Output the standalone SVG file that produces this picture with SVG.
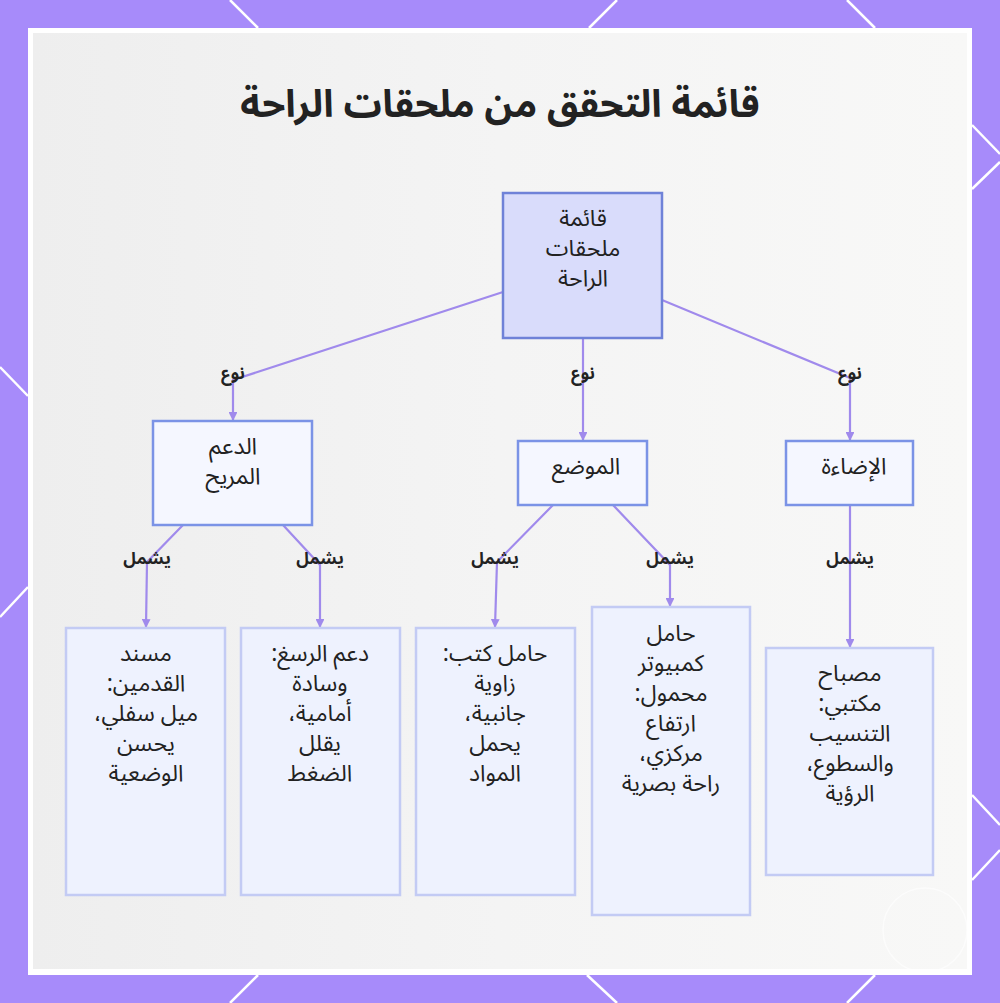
<svg xmlns="http://www.w3.org/2000/svg" width="1000" height="1003" viewBox="0 0 1000 1003">
<defs>
<style>
.t{font-family:"Noto Sans Arabic","Noto Sans","DejaVu Sans",sans-serif;fill:#222;text-anchor:middle;direction:rtl}
.title{font-size:38px;font-weight:bold}
.n{font-size:23px}
.lbl{font-size:17px;font-weight:bold}
.edge{fill:none;stroke:#a08aec;stroke-width:2.2}
.root{fill:#d9dcfb;stroke:#6f82d8;stroke-width:2.5}
.mid{fill:#f5f7ff;stroke:#7b93e6;stroke-width:2.5}
.leaf{fill:#eef2fe;stroke:#c3cbf4;stroke-width:2.5}
.dl{stroke:#ffffff;stroke-width:2.5}
</style>
<linearGradient id="bg" x1="0" y1="0" x2="1" y2="0">
<stop offset="0" stop-color="#eeeeee"/>
<stop offset="0.5" stop-color="#f4f4f4"/>
<stop offset="1" stop-color="#f8f8f7"/>
</linearGradient>
<marker id="ah" viewBox="0 0 10 10" refX="9" refY="5" markerWidth="4" markerHeight="4" orient="auto">
<path d="M0,0 L10,5 L0,10 z" fill="#a08aec"/>
</marker>
</defs>
<rect x="0" y="0" width="1000" height="1003" fill="#a78bfa"/>
<g id="border-lines">
<line class="dl" x1="230" y1="0" x2="258" y2="28"/>
<line class="dl" x1="617" y1="0" x2="589" y2="28"/>
<line class="dl" x1="847" y1="0" x2="875" y2="28"/>
<line class="dl" x1="972" y1="125" x2="1000" y2="154"/>
<line class="dl" x1="972" y1="189" x2="1000" y2="162"/>
<line class="dl" x1="972" y1="795" x2="1000" y2="825"/>
<line class="dl" x1="972" y1="880" x2="1000" y2="850"/>
<line class="dl" x1="258" y1="975" x2="230" y2="1003"/>
<line class="dl" x1="587" y1="975" x2="617" y2="1003"/>
<line class="dl" x1="875" y1="975" x2="847" y2="1003"/>
<line class="dl" x1="0" y1="367" x2="28" y2="396"/>
<line class="dl" x1="28" y1="587" x2="0" y2="617"/>
</g>
<rect x="28" y="28" width="944" height="947" fill="#ffffff"/>
<rect x="33" y="33" width="934" height="936" fill="url(#bg)"/>
<circle cx="925" cy="930" r="42" fill="none" stroke="#ffffff" stroke-width="1.5" opacity="0.6"/>
<text class="t title" x="500" y="117">قائمة التحقق من ملحقات الراحة</text>
<g id="connectors">
<polyline class="edge" points="503,292 233,380 233,420" marker-end="url(#ah)"/>
<line class="edge" x1="583" y1="338" x2="583" y2="440" marker-end="url(#ah)"/>
<polyline class="edge" points="662,300 850,378 850,440" marker-end="url(#ah)"/>
<polyline class="edge" points="183,525 147,562 146,627" marker-end="url(#ah)"/>
<polyline class="edge" points="283,525 320,565 320,627" marker-end="url(#ah)"/>
<polyline class="edge" points="553,505 497,562 495,627" marker-end="url(#ah)"/>
<polyline class="edge" points="613,505 670,565 670,606" marker-end="url(#ah)"/>
<line class="edge" x1="850" y1="505" x2="850" y2="647" marker-end="url(#ah)"/>
<text class="t lbl" x="233" y="379">نوع</text>
<text class="t lbl" x="583" y="379">نوع</text>
<text class="t lbl" x="850" y="379">نوع</text>
<text class="t lbl" x="147" y="564">يشمل</text>
<text class="t lbl" x="320" y="564">يشمل</text>
<text class="t lbl" x="495" y="564">يشمل</text>
<text class="t lbl" x="670" y="564">يشمل</text>
<text class="t lbl" x="850" y="564">يشمل</text>
</g>
<g id="root">
<rect class="root" x="503" y="193" width="159" height="145"/>
<text class="t n" x="583" y="226">قائمة</text>
<text class="t n" x="583" y="256">ملحقات</text>
<text class="t n" x="583" y="286">الراحة</text>
</g>
<g id="support">
<rect class="mid" x="153" y="421" width="159" height="104"/>
<text class="t n" x="233" y="454">الدعم</text>
<text class="t n" x="233" y="484">المريح</text>
</g>
<g id="position">
<rect class="mid" x="518" y="441" width="129" height="64"/>
<text class="t n" x="586" y="474">الموضع</text>
</g>
<g id="lighting">
<rect class="mid" x="786" y="441" width="127" height="64"/>
<text class="t n" x="854" y="474">الإضاءة</text>
</g>
<g id="leaf-foot">
<rect class="leaf" x="66" y="628" width="159" height="267"/>
<text class="t n" x="146" y="661">مسند</text>
<text class="t n" x="146" y="691">القدمين:</text>
<text class="t n" x="146" y="721">ميل سفلي،</text>
<text class="t n" x="146" y="751">يحسن</text>
<text class="t n" x="146" y="781">الوضعية</text>
</g>
<g id="leaf-wrist">
<rect class="leaf" x="241" y="628" width="159" height="267"/>
<text class="t n" x="320" y="661">دعم الرسغ:</text>
<text class="t n" x="320" y="691">وسادة</text>
<text class="t n" x="320" y="721">أمامية،</text>
<text class="t n" x="320" y="751">يقلل</text>
<text class="t n" x="320" y="781">الضغط</text>
</g>
<g id="leaf-book">
<rect class="leaf" x="416" y="628" width="159" height="267"/>
<text class="t n" x="495" y="661">حامل كتب:</text>
<text class="t n" x="495" y="691">زاوية</text>
<text class="t n" x="495" y="721">جانبية،</text>
<text class="t n" x="495" y="751">يحمل</text>
<text class="t n" x="495" y="781">المواد</text>
</g>
<g id="leaf-laptop">
<rect class="leaf" x="592" y="607" width="158" height="308"/>
<text class="t n" x="671" y="641">حامل</text>
<text class="t n" x="671" y="671">كمبيوتر</text>
<text class="t n" x="671" y="701">محمول:</text>
<text class="t n" x="671" y="731">ارتفاع</text>
<text class="t n" x="671" y="761">مركزي،</text>
<text class="t n" x="671" y="791">راحة بصرية</text>
</g>
<g id="leaf-lamp">
<rect class="leaf" x="766" y="648" width="167" height="227"/>
<text class="t n" x="850" y="681">مصباح</text>
<text class="t n" x="850" y="711">مكتبي:</text>
<text class="t n" x="850" y="741">التنسيب</text>
<text class="t n" x="850" y="771">والسطوع،</text>
<text class="t n" x="850" y="801">الرؤية</text>
</g>
</svg>
